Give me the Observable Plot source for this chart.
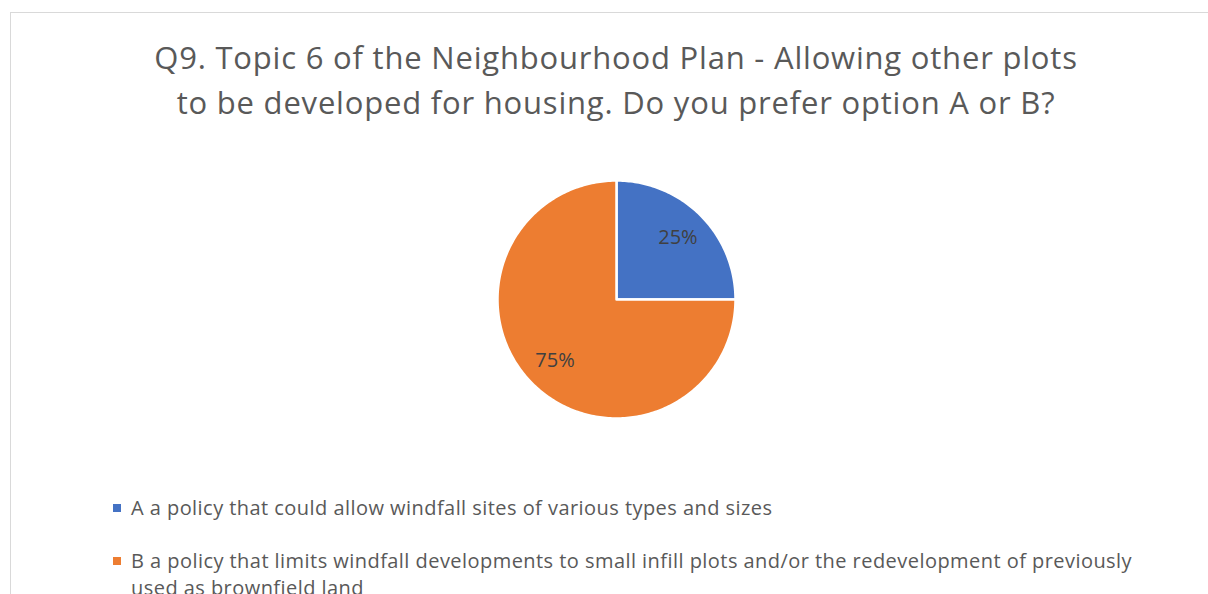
<!DOCTYPE html>
<html>
<head>
<meta charset="utf-8">
<script src="https://cdn.jsdelivr.net/npm/d3@7"></script>
<script src="https://cdn.jsdelivr.net/npm/@observablehq/plot@0.6"></script>
<style>
  html, body { margin: 0; padding: 0; background: #fff; }
  body { width: 1208px; height: 594px; overflow: hidden; position: relative; font-family: "Open Sans", sans-serif; }
  #frame { position: absolute; left: 10px; top: 12px; width: 1210px; height: 620px; border: 1px solid #d9d9d9; box-sizing: border-box; }
  #title { position: absolute; left: 0; width: 1232px; top: 35px; text-align: center; font-size: 31px; letter-spacing: 0.8px; line-height: 45px; color: #595959; font-weight: 400; }
  #chart { position: absolute; left: 491px; top: 174px; }
  #legend { position: absolute; left: 113px; top: 494px; color: #595959; font-size: 20px; letter-spacing: 0.45px; }
  .item { position: relative; padding-left: 18px; width: 1040px; line-height: 27px; margin-bottom: 26px; }
  .sw { position: absolute; left: 0; top: 10px; width: 8px; height: 8px; }
</style>
</head>
<body>
<div id="frame"></div>
<div id="title"></div>
<div id="chart"></div>
<div id="legend"></div>
<script>
const titleLines = ["Q9. Topic 6 of the Neighbourhood Plan - Allowing other plots", "to be developed for housing. Do you prefer option A or B?"];
const categories = ["A a policy that could allow windfall sites of various types and sizes",
  "B a policy that limits windfall developments to small infill plots and/or the redevelopment of previously used as brownfield land"];
const keys = ["A", "B"];
const values = [25, 75];
const colors = ["#4472C4", "#ED7D31"];

document.getElementById("title").innerHTML = titleLines.join("<br>");

const pie = d3.pie().sort(null).value(d => d.value)(keys.map((k, i) => ({key: k, value: values[i]})));
const poly = [];
const labels = [];
pie.forEach(s => {
  const k = s.data.key;
  poly.push({key: k, x: 0, y: 0});
  const n = Math.max(2, Math.ceil((s.endAngle - s.startAngle) / (Math.PI / 180)));
  for (let j = 0; j <= n; j++) {
    const a = s.startAngle + (s.endAngle - s.startAngle) * j / n;
    poly.push({key: k, x: Math.sin(a), y: Math.cos(a)});
  }
  const m = (s.startAngle + s.endAngle) / 2;
  const r = 0.73;
  labels.push({key: k, x: r * Math.sin(m), y: r * Math.cos(m), text: Math.round(s.data.value / d3.sum(values) * 100) + "%"});
});

const plot = Plot.plot({
  width: 250, height: 250, margin: 6,
  x: {domain: [-1, 1], axis: null},
  y: {domain: [-1, 1], axis: null},
  color: {domain: keys, range: colors},
  style: {fontFamily: "Open Sans, sans-serif", background: "transparent", overflow: "visible"},
  marks: [
    Plot.line(poly, {x: "x", y: "y", z: "key", fill: "key", stroke: "white", strokeWidth: 2.5, curve: "linear-closed"}),
    Plot.text(labels, {x: "x", y: "y", text: "text", fill: "#404040", fontSize: 20})
  ]
});
document.getElementById("chart").appendChild(plot);

const lg = document.getElementById("legend");
categories.forEach((c, i) => {
  const d = document.createElement("div");
  d.className = "item";
  d.innerHTML = `<span class="sw" style="background:${colors[i]}"></span>${c}`;
  lg.appendChild(d);
});
</script>
</body>
</html>
